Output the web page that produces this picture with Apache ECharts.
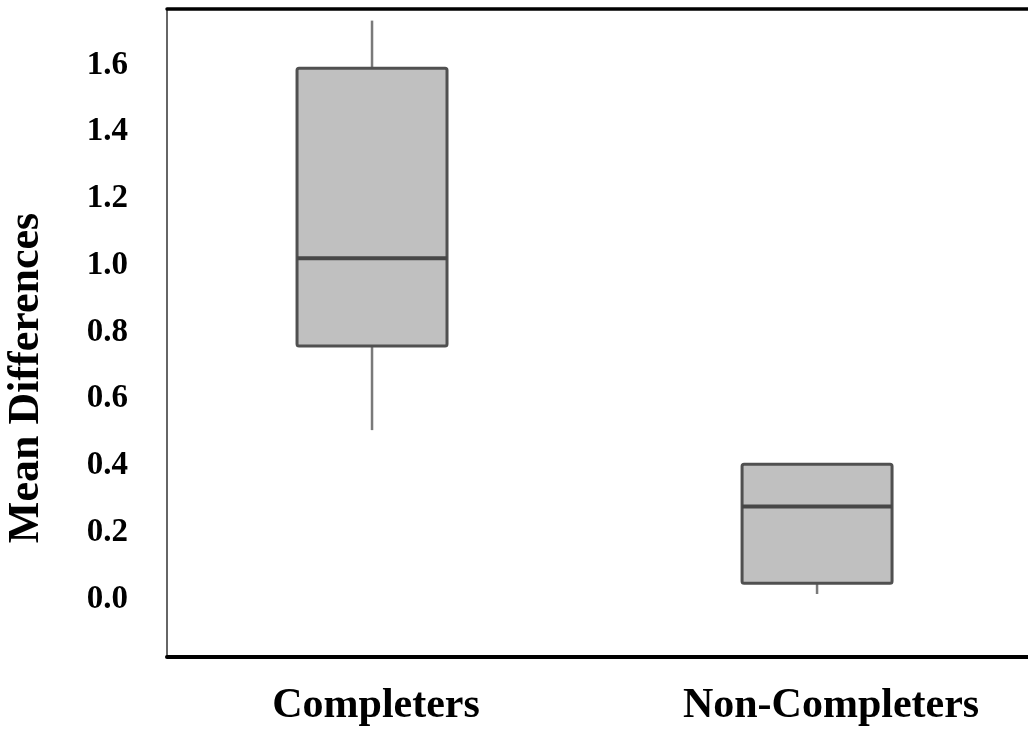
<!DOCTYPE html>
<html>
<head>
<meta charset="utf-8">
<title>Mean Differences</title>
<script src="https://cdn.jsdelivr.net/npm/echarts@6/dist/echarts.min.js"></script>
<style>
  html, body { margin: 0; padding: 0; background: #fff; }
  #chart { width: 1028px; height: 732px; }
</style>
</head>
<body>
<div id="chart"></div>
<script>

/* box plot values */
var categories = ['Completers', 'Non-Completers'];
var positions = [0, 1];
var mins    = [0.506, 0.015];
var q1s     = [0.758, 0.047];
var medians = [1.021, 0.277];
var q3s     = [1.590, 0.404];
var maxs    = [1.733, 0.404];

var yTickLabels = ['0.0', '0.2', '0.4', '0.6', '0.8', '1.0', '1.2', '1.4', '1.6'];

var boxWidth = 0.337;   // in x-axis units

var serif = "'Liberation Serif', 'Times New Roman', serif";

function buildBoxData() {
    var rows = [];
    for (var i = 0; i < categories.length; i++) {
        rows.push([positions[i], mins[i], q1s[i], medians[i], q3s[i], maxs[i]]);
    }
    return rows;
}

function renderBox(params, api) {
    var x = api.value(0);
    var lo = api.coord([x, api.value(1)]);
    var q1 = api.coord([x, api.value(2)]);
    var md = api.coord([x, api.value(3)]);
    var q3 = api.coord([x, api.value(4)]);
    var hi = api.coord([x, api.value(5)]);
    var half = api.size([boxWidth, 0])[0] / 2;

    var whisker = { stroke: '#7a7a7a', lineWidth: 2.5 };

    return {
        type: 'group',
        children: [
            { type: 'line', shape: { x1: lo[0], y1: lo[1], x2: q1[0], y2: q1[1] }, style: whisker },
            { type: 'line', shape: { x1: q3[0], y1: q3[1], x2: hi[0], y2: hi[1] }, style: whisker },
            {
                type: 'rect',
                shape: { x: q3[0] - half, y: q3[1], width: half * 2, height: q1[1] - q3[1], r: 2 },
                style: { fill: '#c0c0c0', stroke: '#505050', lineWidth: 3, lineJoin: 'round' }
            },
            {
                type: 'line',
                shape: { x1: md[0] - half, y1: md[1], x2: md[0] + half, y2: md[1] },
                style: { stroke: '#474747', lineWidth: 4 }
            }
        ]
    };
}

var chart = echarts.init(document.getElementById('chart'));

var catLabel = {
    fontFamily: serif,
    fontWeight: 'bold',
    fontSize: 42,
    color: '#000'
};

var option = {
    backgroundColor: '#ffffff',
    animation: false,
    grid: { left: 167, right: 0, top: 9, bottom: 75, outerBoundsMode: 'none', containLabel: false },
    xAxis: [
        {
            type: 'value',
            min: -0.4607,
            max: 1.474,
            splitLine: { show: false },
            axisTick: { show: false },
            axisLine: { show: true, onZero: false, lineStyle: { color: '#000', width: 4 } },
            axisLabel: {
                customValues: positions,
                margin: 28,
                fontFamily: serif,
                fontWeight: 'bold',
                fontSize: 42,
                color: '#000',
                formatter: function (v) {
                    var i = Math.round(v);
                    return '{c' + i + '|' + categories[i] + '}';
                },
                rich: {
                    c0: Object.assign({ padding: [0, 0, 0, 8] }, catLabel),
                    c1: Object.assign({ padding: [0, 0, 0, 28] }, catLabel)
                }
            }
        },
        {
            type: 'value',
            position: 'top',
            min: -0.4607,
            max: 1.474,
            splitLine: { show: false },
            axisTick: { show: false },
            axisLabel: { show: false },
            axisLine: { show: true, onZero: false, lineStyle: { color: '#000', width: 3.5 } }
        }
    ],
    yAxis: {
        type: 'value',
        min: -0.1738,
        max: 1.7678,
        name: 'Mean Differences',
        nameLocation: 'middle',
        nameRotate: 90,
        nameGap: 118,
        nameTextStyle: {
            fontFamily: serif,
            fontWeight: 'bold',
            fontSize: 44,
            color: '#000',
            padding: [0, 90, 0, 0]
        },
        splitLine: { show: false },
        axisTick: { show: false },
        axisLine: { show: true, onZero: false, lineStyle: { color: '#333', width: 1.5 } },
        axisLabel: {
            customValues: yTickLabels.map(Number),
            margin: 39,
            fontFamily: serif,
            fontWeight: 'bold',
            fontSize: 33,
            color: '#000',
            formatter: function (v) { return v.toFixed(1); }
        }
    },
    series: [
        {
            name: 'Mean Differences',
            type: 'custom',
            xAxisIndex: 0,
            renderItem: renderBox,
            encode: { x: 0, y: [1, 2, 3, 4, 5] },
            data: buildBoxData()
        }
    ]
};

chart.setOption(option);

</script>
</body>
</html>
